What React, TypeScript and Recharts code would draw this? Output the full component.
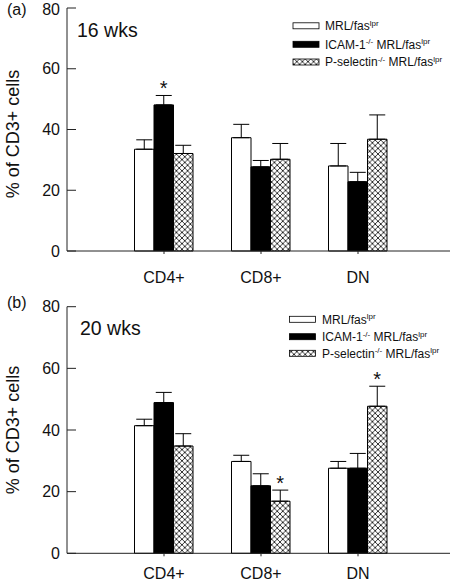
import React from 'react';
import {
  BarChart,
  Bar,
  XAxis,
  YAxis,
  ErrorBar,
  LabelList,
} from 'recharts';

const categories = ['CD4+', 'CD8+', 'DN'];
const yTicks = [0, 20, 40, 60, 80];
const Y_MAX = 80;

// 16 wks
const mrl16 = [33.5, 37.3, 28.0];
const mrl16Err = [3.1, 4.4, 7.4];
const icam16 = [48.1, 27.7, 22.8];
const icam16Err = [3.1, 2.1, 3.1];
const psel16 = [32.1, 30.2, 36.8];
const psel16Err = [2.7, 5.2, 8.0];
const icam16Star = [true, false, false];
const psel16Star = [false, false, false];

// 20 wks
const mrl20 = [41.4, 29.8, 27.6];
const mrl20Err = [2.1, 2.0, 2.2];
const icam20 = [48.9, 21.9, 27.6];
const icam20Err = [3.3, 3.9, 4.8];
const psel20 = [34.8, 16.9, 47.7];
const psel20Err = [4.0, 3.6, 6.5];
const icam20Star = [false, false, false];
const psel20Star = [false, true, true];

const FONT = '"Liberation Sans", Arial, Helvetica, sans-serif';
const INK = '#111';
const PLOT_LEFT = 67;
const X_AXIS_H = 30;

function buildRows(
  mrl: number[], mrlErr: number[],
  icam: number[], icamErr: number[],
  psel: number[], pselErr: number[],
) {
  return categories.map((name, i) => ({
    name,
    mrl: mrl[i],
    mrlErr: [0, mrlErr[i]],
    icam: icam[i],
    icamErr: [0, icamErr[i]],
    psel: psel[i],
    pselErr: [0, pselErr[i]],
  }));
}

// star sits just above the top of the error bar
const starLabel = (errs: number[], stars: boolean[]) => (props: any) => {
  const vb = props.viewBox || props;
  const { index, value } = props;
  if (!stars[index]) return null;
  const x = vb.x ?? props.x;
  const y = vb.y ?? props.y;
  const width = vb.width ?? props.width;
  const height = vb.height ?? props.height;
  const pxPerUnit = Math.abs(height) / Number(value);
  const top = y - errs[index] * pxPerUnit;
  return (
    <text x={x + width / 2} y={top} textAnchor="middle" fontSize={20} fontFamily={FONT} fill={INK}>
      *
    </text>
  );
};

interface PanelProps {
  rows: ReturnType<typeof buildRows>;
  errs: { mrl: number[]; icam: number[]; psel: number[] };
  stars: { icam: boolean[]; psel: boolean[] };
  height: number;
  marginTop: number;
  marginBottom: number;
  tickMargin: number;
  labelCenterY: number;
}

function Panel({ rows, errs, stars, height, marginTop, marginBottom, tickMargin, labelCenterY }: PanelProps) {
  return (
    <BarChart
      width={456}
      height={height}
      data={rows}
      margin={{ top: marginTop, right: 6, bottom: marginBottom, left: 0 }}
      barGap={0}
      barSize={19.5}
    >
      <XAxis
        dataKey="name"
        padding={{ left: 48.5, right: 43.5 }}
        height={X_AXIS_H}
        tickSize={3}
        tickMargin={tickMargin}
        tickLine={{ stroke: '#222' }}
        axisLine={{ stroke: '#222' }}
        tick={{ fontSize: 16, fill: INK, fontFamily: FONT }}
      />
      <XAxis xAxisId="top" orientation="top" dataKey="name" height={0} tick={false} tickLine={false} axisLine={{ stroke: '#222' }} />
      <YAxis
        domain={[0, Y_MAX]}
        ticks={yTicks}
        width={PLOT_LEFT}
        tickSize={0}
        tickMargin={7}
        tickLine={false}
        axisLine={{ stroke: '#222' }}
        tick={{ fontSize: 16, fill: INK, fontFamily: FONT }}
        label={() => (
          <text
            x={19}
            y={labelCenterY}
            transform={`rotate(-90 19 ${labelCenterY})`}
            textAnchor="middle"
            fontSize={18}
            fontFamily={FONT}
            fill={INK}
          >
            % of CD3+ cells
          </text>
        )}
      />
      <YAxis yAxisId="right" orientation="right" domain={[0, Y_MAX]} width={0} tick={false} tickLine={false} axisLine={{ stroke: '#222' }} />
      <Bar dataKey="mrl" fill="#fff" stroke="#000" strokeWidth={1} isAnimationActive={false}>
        <ErrorBar dataKey="mrlErr" direction="y" width={8} stroke="#000" strokeWidth={1} />
      </Bar>
      <Bar dataKey="icam" fill="#000" stroke="#000" strokeWidth={1} isAnimationActive={false}>
        <ErrorBar dataKey="icamErr" direction="y" width={8} stroke="#000" strokeWidth={1} />
        <LabelList dataKey="icam" content={starLabel(errs.icam, stars.icam)} />
      </Bar>
      <Bar dataKey="psel" fill="url(#xhatch)" stroke="#000" strokeWidth={1} isAnimationActive={false}>
        <ErrorBar dataKey="pselErr" direction="y" width={8} stroke="#000" strokeWidth={1} />
        <LabelList dataKey="psel" content={starLabel(errs.psel, stars.psel)} />
      </Bar>
    </BarChart>
  );
}

function Overlay({ letter, letterY, title, titleX, titleY, boxX, textX, rowY, plotTop, plotHeight }: any) {
  const sup = (s: string) => (
    <tspan dy={-4.5} fontSize={8}>{s}</tspan>
  );
  const down = (s: string) => <tspan dy={4.5}>{s}</tspan>;
  return (
    <svg width={456} height={300} style={{ position: 'absolute', left: 0, top: 0, pointerEvents: 'none' }}>
      {/* inward tick marks on the left frame */}
      {yTicks.map((v) => {
        const ty = plotTop + ((Y_MAX - v) / Y_MAX) * plotHeight;
        return <line key={v} x1={PLOT_LEFT} x2={PLOT_LEFT + 9} y1={ty} y2={ty} stroke="#222" strokeWidth={1} />;
      })}
      <text x={7} y={letterY} fontSize={16} fontFamily={FONT} fill={INK}>{letter}</text>
      <text x={titleX} y={titleY} fontSize={19.5} fontFamily={FONT} fill={INK}>{title}</text>
      <rect x={boxX} y={rowY[0] - 3} width={26} height={6} fill="#fff" stroke="#000" strokeWidth={0.8} />
      <rect x={boxX} y={rowY[1] - 3} width={26} height={6} fill="#000" stroke="#000" strokeWidth={0.8} />
      <rect x={boxX} y={rowY[2] - 3} width={26} height={6} fill="url(#xhatch)" stroke="#000" strokeWidth={0.8} />
      <g fontSize={12} fontFamily={FONT} fill={INK}>
        <text x={textX} y={rowY[0] + 4.3}>MRL/fas{sup('lpr')}</text>
        <text x={textX} y={rowY[1] + 4.3}>ICAM-1{sup('-/-')}{down(' MRL/fas')}{sup('lpr')}</text>
        <text x={textX} y={rowY[2] + 4.3}>P-selectin{sup('-/-')}{down(' MRL/fas')}{sup('lpr')}</text>
      </g>
    </svg>
  );
}

export default function App() {
  const rows16 = buildRows(mrl16, mrl16Err, icam16, icam16Err, psel16, psel16Err);
  const rows20 = buildRows(mrl20, mrl20Err, icam20, icam20Err, psel20, psel20Err);
  const a = { height: 290, marginTop: 8, marginBottom: 9 };
  const b = { height: 294, marginTop: 16.7, marginBottom: 0.7 };
  return (
    <div style={{ position: 'absolute', left: 0, top: 0, width: 456, height: 584, background: '#fff', fontFamily: FONT }}>
      <svg width={0} height={0} style={{ position: 'absolute' }}>
        <defs>
          <pattern id="xhatch" width={5.6} height={5.6} patternUnits="userSpaceOnUse">
            <rect width={5.6} height={5.6} fill="#fff" />
            <path d="M0,0 L5.6,5.6 M5.6,0 L0,5.6" stroke="#000" strokeWidth={0.8} />
          </pattern>
        </defs>
      </svg>
      <div style={{ position: 'absolute', left: 0, top: 0 }}>
        <Panel
          rows={rows16}
          errs={{ mrl: mrl16Err, icam: icam16Err, psel: psel16Err }}
          stars={{ icam: icam16Star, psel: psel16Star }}
          {...a}
          tickMargin={18}
          labelCenterY={134}
        />
        <Overlay
          letter="(a)" letterY={15} title="16 wks" titleX={77} titleY={37}
          boxX={293} textX={325} rowY={[25.8, 44.3, 62]}
          plotTop={a.marginTop} plotHeight={a.height - a.marginTop - a.marginBottom - X_AXIS_H}
        />
      </div>
      <div style={{ position: 'absolute', left: 0, top: 290 }}>
        <Panel
          rows={rows20}
          errs={{ mrl: mrl20Err, icam: icam20Err, psel: psel20Err }}
          stars={{ icam: icam20Star, psel: psel20Star }}
          {...b}
          tickMargin={11.3}
          labelCenterY={140}
        />
        <Overlay
          letter="(b)" letterY={18} title="20 wks" titleX={80} titleY={45}
          boxX={289.5} textX={322} rowY={[29.3, 46.7, 63.3]}
          plotTop={b.marginTop} plotHeight={b.height - b.marginTop - b.marginBottom - X_AXIS_H}
        />
      </div>
    </div>
  );
}
